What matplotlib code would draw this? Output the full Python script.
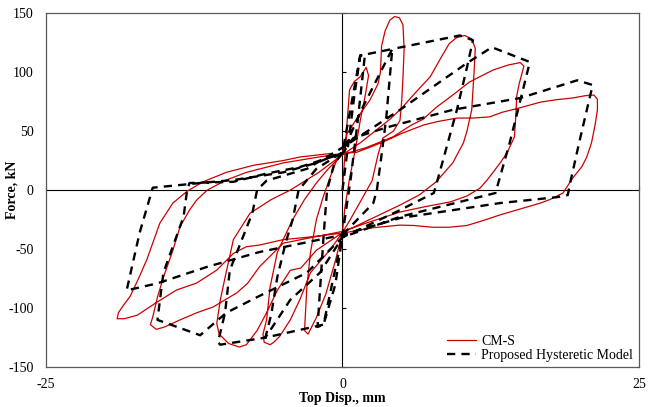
import matplotlib
matplotlib.use("Agg")
import matplotlib.pyplot as plt

cms_disp = [
    0, 0.2, 0.4, 0.6, 1.0, 1.5, 2.0, 2.2, 1.9, 1.5, 1.1, 0.6, 0.2, 0,
    -0.6, -1.4, -2.2, -2.7, -2.9, -3.2, -3.1, -3.0, -2.7, -2.2, -1.6, -1.0, -0.5, 0,
    0.4, 1.3, 2.3, 3.0, 3.2, 3.3, 3.6, 4.0, 4.4, 4.8, 5.1, 5.2, 5.1, 5.0, 4.85, 4.3, 3.4, 3.0, 2.5, 1.5, 0.6, 0,
    -1.0, -2.7, -3.6, -4.4, -5.3, -5.8, -6.1, -6.6, -6.7, -6.4, -6.1, -5.5, -5.0, -4.2, -3.2, -2.2, -1.2, 0,
    1.5, 3.0, 4.0, 5.0, 6.2, 7.4, 8.3, 9.0, 9.6, 10.3, 10.9, 11.2, 11.1, 10.9, 10.5, 10.2, 9.3, 7.9, 6.5, 4.85, 2.5, 0,
    -2.2, -3.5, -4.4, -5.5, -6.4, -7.2, -8.1, -8.7, -9.6, -10.4, -10.6, -10.3, -9.9, -9.2, -7.8, -6.0, -4.4, -2.0, 0,
    2.0, 4.25, 5.8, 6.8, 7.9, 9.3, 10.7, 12.7, 14.0, 15.0, 15.3, 14.9, 14.7, 14.6, 14.5, 13.9, 13.3, 12.2, 11.6, 10.5, 9.1, 7.0, 4.85, 2.0, 0,
    -2.5, -5.0, -6.0, -7.0, -8.0, -8.9, -10.9, -12.3, -13.7, -15.0, -15.7, -16.2, -16.0, -15.6, -15.1, -14.3, -13.7, -12.9, -12.3, -11.4, -9.8, -8.1, -5.0, -2.0, 0,
    1.2, 2.5, 3.7, 5.0, 6.8, 8.0, 9.65, 11.0, 12.4, 13.5, 14.7, 16.7, 18.0, 19.4, 20.5, 21.2, 21.5, 21.5, 21.3, 21.0, 20.6, 20.2, 19.4, 18.6, 17.5, 16.7, 15.0, 13.3, 11.8, 10.5, 9.0, 7.6, 6.0, 4.85, 2.5, 0,
    -3.0, -5.0, -7.0, -8.1, -9.2, -10.6, -12.3, -14.0, -15.8, -17.3, -18.4, -19.0, -18.9, -18.5, -17.9, -17.2, -16.5, -15.9, -15.4, -14.3, -13.1, -11.8, -9.8, -7.5, -5.0, -3.6, -1.0,
]
cms_force = [
    0, 30, 59, 85, 92, 96, 104, 97, 79, 59, 35, 10, -15, -36,
    -60, -88, -108, -118, -122, -119, -100, -82, -53, -25, -5, 12, 25, 31,
    48, 62, 76, 90, 100, 122, 135, 144, 147, 146, 140, 120, 95, 76, 59, 50, 44, 30, 8, -10, -26, -36,
    -50, -70, -93, -110, -124, -129, -131, -129, -122, -110, -82, -53, -42, -25, -8, 6, 18, 30,
    40, 52, 60, 69.5, 83, 96, 112, 124, 129, 131, 128, 120, 100, 68, 50, 40, 23, 7, -4, -12.7, -24, -36,
    -51, -66, -68, -85, -104, -119, -131, -133, -130, -122, -113, -93, -74, -42, -19.7, -8, 0, 15, 30,
    36, 45, 55, 60, 70, 80.5, 91.5, 101.7, 106, 108, 105, 90, 80, 60, 45, 32, 23, 8.5, 1.7, -5, -10, -14, -18.6, -28, -35,
    -40, -45, -55, -65, -79, -87, -99, -104, -110, -116, -118, -114, -107.6, -90.7, -74, -51, -31, -17, -8.5, 0, 8.5, 15, 23, 28, 31,
    32, 37, 42, 48, 55, 58, 61, 61, 62, 66, 69, 74.5, 76.5, 78, 80, 80.5, 77, 68, 55, 40, 28, 20, 10, -2.5, -8, -11, -16, -21, -26, -30, -31.5, -31.5, -30, -29.7, -32, -36.5,
    -40, -42, -46.6, -48, -53.7, -67.8, -78.8, -84.7, -96, -106, -109, -109, -104, -98, -90, -75, -59, -42, -28, -11, -1, 6.8, 15, 21, 25, 28, 31,
]

# proposed hysteretic model (multi-linear)
model_disp = [
    0, 0.5, 1.0, 1.5, 1.9, 1.3, 0.7, 0,
    -0.6, -1.6, -2.1, -1.6, -1.3, -0.7, 0,
    1.5, 4.2, 3.7, 3.3, 2.9, 2.6, 0,
    -1.6, -6.5, -6.0, -5.5, -4.8, -4.2, -3.7, -2.2, 0,
    1.7, 4.2, 9.9, 11.0, 10.5, 9.65, 7.95, 7.7, 4.85, 0,
    -1.9, -4.4, -6.5, -10.3, -10.5, -9.9, -9.5, -7.6, -7.2, -6.4, -3.0, 0,
    4.85, 10.5, 12.6, 15.8, 15.0, 14.1, 12.9, 10.5, 4.85, 0,
    -3.0, -7.2, -9.8, -12.0, -15.6, -15.1, -13.4, -13.1, -12.9, -9.2, -6.4, -3.6, 0,
    0.9, 3.7, 9.3, 15.0, 19.8, 21.1, 20.0, 19.2, 19.0, 18.1, 13.3, 4.85, 0,
    -7.0, -11.4, -15.6, -18.2, -17.1, -16.0, -12.0, -9.2, -5.0, -2.2, -0.5,
]
model_force = [
    0, 40, 80, 114, 115, 60, 10, -38,
    -80, -114, -116, -40, 0, 22, 32,
    114, 119.5, 62, 30, 0, -11, -38,
    -114, -125, -105, -74, -45, -25, 0, 18, 32,
    70, 119.5, 131, 127, 104, 68, 6, -2.5, -17, -40,
    -70, -93, -125, -131, -129, -104, -68, -19.5, 0, 8, 18, 36,
    68, 107.6, 121, 108.5, 76, 40, -2.5, -8.5, -22.6, -40,
    -70, -90.7, -104, -123, -110, -70, -22.6, 0, 6, 7, 14, 19.5, 31,
    44, 53, 68, 78, 93, 89, 42, 6, -4.2, -6, -11, -23.7, -38,
    -52.5, -65, -79, -85, -36, 2, 6, 8.5, 15, 23, 30,
]

y_ticks = [-150, -100, -50, 0, 50, 100, 150]
x_ticks = [-25, 0, 25]

plt.rcParams["font.family"] = ["Liberation Serif", "DejaVu Serif"]
plt.rcParams["font.size"] = 10
plt.rcParams["axes.unicode_minus"] = False

fig = plt.figure(figsize=(6.48, 4.07), dpi=100)
ax = fig.add_axes([0.071, 0.098, 0.915, 0.870])

ax.plot(cms_disp, cms_force, color="#CC0000", lw=0.9, label="CM-S")
ax.plot(model_disp, model_force, color="black", lw=1.7,
        linestyle=(0, (3.5, 2.6)), label="Proposed Hysteretic Model")

ax.set_xlim(-25, 25)
ax.set_ylim(-150, 150)
ax.set_xticks(x_ticks)
ax.set_yticks(y_ticks)
ax.tick_params(axis="y", length=0, pad=9, labelsize=10)
ax.tick_params(axis="x", length=0, pad=8, labelsize=10)
for s in ax.spines.values():
    s.set_color("#595959")
    s.set_linewidth(0.9)

# axes through the origin with their own small ticks
sx = ax.secondary_xaxis(0.5)
sx.set_xticks(x_ticks)
sx.set_xticklabels([])
sx.tick_params(direction="out", length=3, width=0.8, color="black")
sx.spines["bottom"].set_linewidth(0.9)
sy = ax.secondary_yaxis(0.5)
sy.set_yticks(y_ticks)
sy.set_yticklabels([])
sy.tick_params(direction="out", length=3, width=0.8, color="black")
sy.spines["left"].set_linewidth(0.9)

ax.set_xlabel("Top Disp., mm", fontweight="bold", fontsize=10)
ax.xaxis.set_label_coords(0.5, -0.071)
ax.set_ylabel("Force, kN", fontweight="bold", fontsize=10)
ax.yaxis.set_label_coords(-0.047, 0.5)

ax.legend(loc="lower right", frameon=False, handlelength=2.1,
          handletextpad=0.4, labelspacing=0.05, borderaxespad=0.0,
          fontsize=10)

fig.savefig("out.png", dpi=100)
